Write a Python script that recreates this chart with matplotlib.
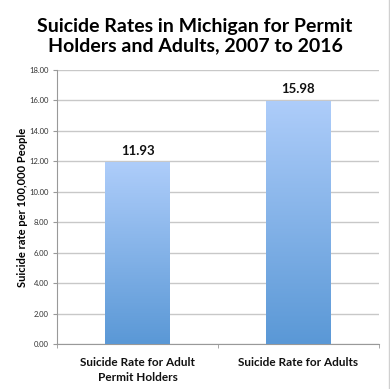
import matplotlib.pyplot as plt
import numpy as np
from matplotlib.colors import LinearSegmentedColormap
from matplotlib.lines import Line2D

categories = ['Suicide Rate for Adult\nPermit Holders', 'Suicide Rate for Adults']
rates = [11.93, 15.98]
value_labels = ['11.93', '15.98']
yticks = [0, 2, 4, 6, 8, 10, 12, 14, 16, 18]

plt.rcParams['font.family'] = ['Lato', 'DejaVu Sans']

fig = plt.figure(figsize=(3.9, 3.89), dpi=100)
ax = fig.add_axes([57 / 390, 45 / 389, 322 / 390, 274 / 389])

x = np.arange(len(categories))
width = 0.4
bars = ax.bar(x, rates, width=width, color='none', edgecolor='none', zorder=3)

cmap = LinearSegmentedColormap.from_list('grad', ['#5a98d6', '#aecdfa'])
grad = np.linspace(0, 1, 256).reshape(-1, 1)
for b in bars:
    x0, y0 = b.get_x(), b.get_y()
    w, h = b.get_width(), b.get_height()
    im = ax.imshow(grad, cmap=cmap, aspect='auto', origin='lower',
                   extent=[x0, x0 + w, y0, y0 + h], zorder=3)
    im.set_clip_path(b)

for xi, v, lab in zip(x, rates, value_labels):
    ax.text(xi, v + 0.35, lab, ha='center', va='bottom',
            fontsize=9.5, fontweight='bold', color='#111111')

ax.set_xlim(-0.5, len(categories) - 0.5)
ax.set_ylim(0, 18)
ax.set_yticks(yticks)
ax.set_yticklabels(['%.2f' % t for t in yticks], fontsize=5.5, color='#333333')
ax.set_xticks(x)
ax.set_xticklabels(categories, fontsize=8.5, fontweight='bold', color='#111111',
                   linespacing=1.45)
ax.tick_params(axis='x', length=0, pad=9)
ax.set_xticks([-0.5, 0.5, 1.5], minor=True)
ax.tick_params(axis='x', which='minor', length=3, color='#999999', direction='out')
ax.tick_params(axis='y', length=3, color='#999999', pad=3)

ax.yaxis.grid(True, color='#c8c8c8', linewidth=1)
ax.set_axisbelow(True)
for s in ['top', 'right']:
    ax.spines[s].set_visible(False)
ax.spines['left'].set_color('#999999')
ax.spines['bottom'].set_color('#999999')

ax.set_ylabel('Suicide rate per 100,000 People', fontsize=8, fontweight='bold', labelpad=1)

fig.text(0.5, 0.955, 'Suicide Rates in Michigan for Permit\nHolders and Adults, 2007 to 2016',
         ha='center', va='top', fontsize=14, fontweight='bold', linespacing=1.2)

# faint frame edge on the right side of the image
fig.add_artist(Line2D([388.5 / 390, 388.5 / 390], [0, 1], color='#d0d0d0', linewidth=1))

fig.savefig('out.png', dpi=100)
